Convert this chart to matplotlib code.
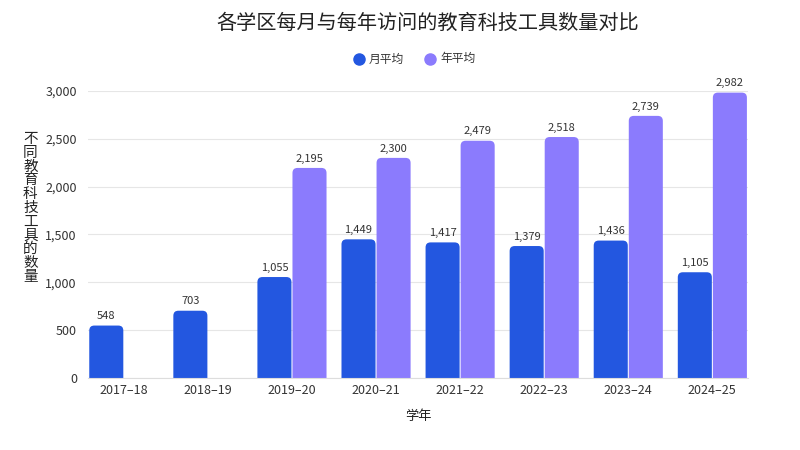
import matplotlib.pyplot as plt
import numpy as np
from matplotlib.patches import FancyBboxPatch
from matplotlib.ticker import FuncFormatter

plt.rcParams['font.family'] = ['Noto Sans CJK SC', 'DejaVu Sans']

years = ['2017–18', '2018–19', '2019–20', '2020–21', '2021–22',
         '2022–23', '2023–24', '2024–25']
monthly = [548, 703, 1055, 1449, 1417, 1379, 1436, 1105]
yearly = [None, None, 2195, 2300, 2479, 2518, 2739, 2982]

BLUE = '#2357E0'
PURPLE = '#8B7BFD'

fig = plt.figure(figsize=(8, 4.5), dpi=100)
ax = fig.add_axes([0.11, 0.16, 0.825, 0.638])

x = np.arange(len(years))
w = 0.405
gap = 0.012


def rounded_bar(ax, x0, h, color, radius_px=5):
    # rounded top corners; box starts below 0 and is clipped by the axes
    bb = ax.get_window_extent()
    xl, yl = ax.get_xlim(), ax.get_ylim()
    xpp = (xl[1] - xl[0]) / bb.width
    ypp = (yl[1] - yl[0]) / bb.height
    r = radius_px * xpp
    below = 2 * radius_px * ypp
    p = FancyBboxPatch((x0, -below), w, h + below,
                       boxstyle=f"round,pad=0,rounding_size={r}",
                       mutation_aspect=ypp / xpp,
                       fc=color, ec='none', zorder=3)
    ax.add_patch(p)


ax.set_xlim(-0.42, 7.43)
ax.set_ylim(0, 3000)

for i in range(len(years)):
    xb = x[i] - w
    rounded_bar(ax, xb, monthly[i], BLUE)
    ax.text(xb + w / 2, monthly[i] + 45, f'{monthly[i]:,}', ha='center',
            va='bottom', fontsize=8, color='#333333', zorder=4)
    if yearly[i] is not None:
        xp = x[i] + gap
        rounded_bar(ax, xp, yearly[i], PURPLE)
        ax.text(xp + w / 2, yearly[i] + 45, f'{yearly[i]:,}', ha='center',
                va='bottom', fontsize=8, color='#333333', zorder=4,
                clip_on=False)

ax.set_xticks(x)
ax.set_xticklabels(years, fontsize=9, color='#333333')
ax.set_yticks(np.arange(0, 3001, 500))
ax.yaxis.set_major_formatter(FuncFormatter(lambda v, p: f'{int(v):,}'))
ax.tick_params(axis='y', labelsize=9, colors='#333333', length=0, pad=8)
ax.tick_params(axis='x', length=0, pad=4)
ax.grid(axis='y', color='#E6E6E6', linewidth=0.8, zorder=0)
for s in ['top', 'right', 'left']:
    ax.spines[s].set_visible(False)
ax.spines['bottom'].set_color('#DDDDDD')
ax.spines['bottom'].set_zorder(4)

ax.set_xlabel('学年', fontsize=9.5, color='#222222', labelpad=10)
fig.text(0.038, 0.538, '\n'.join('不同教育科技工具的数量'), ha='center',
         va='center', fontsize=10.5, color='#222222', linespacing=0.98)

fig.text(0.535, 0.949, '各学区每月与每年访问的教育科技工具数量对比',
         ha='center', va='center', fontsize=14.5, color='#222222')

# legend
fig.lines.append(plt.Line2D([0.449], [0.869], marker='o', markersize=8,
                            color=BLUE, transform=fig.transFigure))
fig.text(0.461, 0.869, '月平均', va='center', fontsize=8.5, color='#333333')
fig.lines.append(plt.Line2D([0.5375], [0.869], marker='o', markersize=8,
                            color=PURPLE, transform=fig.transFigure))
fig.text(0.55, 0.869, '年平均', va='center', fontsize=8.5, color='#333333')

fig.savefig('out.png', dpi=100)
